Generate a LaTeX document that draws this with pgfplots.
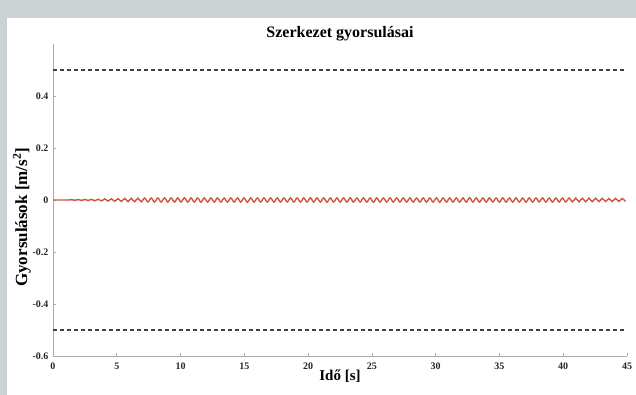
\documentclass[border=0pt]{standalone}
\usepackage{fontspec}
\setmainfont{Liberation Serif}
\usepackage{pgfplots}
\pgfplotsset{compat=1.18}
\definecolor{framegray}{RGB}{205,210,213}
\definecolor{axgray}{RGB}{178,168,168}
\definecolor{sig}{RGB}{205,85,60}
\begin{document}
\begin{tikzpicture}[x=1pt,y=1pt]
\fill[framegray] (0,0) rectangle (636,395);
\fill[white] (7,0) rectangle (636,377);
\path[use as bounding box] (0,0) rectangle (636,395);
\begin{axis}[
  at={(53pt,39pt)}, anchor=south west,
  scale only axis, width=574pt, height=312pt,
  xmin=0, xmax=45, ymin=-0.6, ymax=0.6,
  axis x line*=bottom, axis y line*=left,
  axis line style={axgray, line width=0.8pt, -},
  xtick={0,5,...,45},
  ytick={-0.6,-0.4,-0.2,0,0.2,0.4},
  tick align=inside, major tick length=3pt,
  tick style={axgray, line width=0.6pt},
  /pgf/number format/assume math mode=true,
  ticklabel style={font=\fontsize{10}{11}\selectfont\bfseries, text=black!85},
  yticklabel style={/pgf/number format/fixed, /pgf/number format/precision=1, xshift=-1pt},
  xticklabel style={anchor=base, yshift=-14pt},
  title={Szerkezet gyorsulásai},
  title style={font=\fontsize{16}{18}\selectfont\bfseries, at={(axis description cs:0.5,1)}, anchor=base, yshift=0pt},
  xlabel={Idő [s]},
  xlabel style={font=\fontsize{15}{17}\selectfont\bfseries, at={(axis description cs:0.5,0)}, anchor=base, yshift=-25pt},
  ylabel={Gyorsulások [m/s\textsuperscript{2}]},
  ylabel style={font=\fontsize{17}{19}\selectfont\bfseries, at={(axis description cs:0,0.445)}, anchor=center, yshift=31pt},
]
\addplot[black!75, line width=1.1pt, dash pattern=on 4pt off 3pt] coordinates {(0,0.5) (44.8,0.5)};
\addplot[black!75, line width=1.1pt, dash pattern=on 4pt off 3pt] coordinates {(0,-0.5) (44.8,-0.5)};
\addplot[sig, line width=1.4pt, smooth] coordinates {
(0,0) (1.20,0)
(1.46,0.001) (1.72,-0.001) (1.98,0.0015) (2.24,-0.0015) (2.50,0.002) (2.76,-0.002)
(3.02,0.0025) (3.28,-0.003) (3.54,0.003) (3.80,-0.0035) (4.06,0.004) (4.32,-0.004)
(4.58,0.0045) (4.84,-0.005) (5.10,0.005) (5.36,-0.0055) (5.62,0.006) (5.88,-0.006)
(6.14,0.0065) (6.40,-0.0065) (6.66,0.007) (6.92,-0.007) (7.18,0.0075) (7.44,-0.0075)
(7.70,0.0078) (7.96,-0.008)
(8.22,0.008) (8.48,-0.008) (8.74,0.008) (9.00,-0.008) (9.26,0.008) (9.52,-0.008)
(9.78,0.008) (10.04,-0.008) (10.30,0.0085) (10.56,-0.008) (10.82,0.008) (11.08,-0.008)
(11.34,0.008) (11.60,-0.0085) (11.86,0.008) (12.12,-0.008) (12.38,0.008) (12.64,-0.008)
(12.90,0.008) (13.16,-0.008) (13.42,0.0075) (13.68,-0.008) (13.94,0.008) (14.20,-0.008)
(14.46,0.008) (14.72,-0.008) (14.98,0.008) (15.24,-0.0085) (15.50,0.008) (15.76,-0.008)
(16.02,0.008) (16.28,-0.008) (16.54,0.0085) (16.80,-0.008) (17.06,0.008) (17.32,-0.008)
(17.58,0.008) (17.84,-0.008) (18.10,0.008) (18.36,-0.0075) (18.62,0.008) (18.88,-0.008)
(19.14,0.008) (19.40,-0.008) (19.66,0.008) (19.92,-0.008) (20.18,0.0085) (20.44,-0.008)
(20.70,0.008) (20.96,-0.008) (21.22,0.008) (21.48,-0.0085) (21.74,0.008) (22.00,-0.008)
(22.26,0.008) (22.52,-0.008) (22.78,0.008) (23.04,-0.008) (23.30,0.0085) (23.56,-0.008)
(23.82,0.008) (24.08,-0.008) (24.34,0.008) (24.60,-0.008) (24.86,0.008) (25.12,-0.0085)
(25.38,0.008) (25.64,-0.008) (25.90,0.008) (26.16,-0.008) (26.42,0.0085) (26.68,-0.008)
(26.94,0.008) (27.20,-0.008) (27.46,0.008) (27.72,-0.008) (27.98,0.008) (28.24,-0.008)
(28.50,0.0075) (28.76,-0.008) (29.02,0.008) (29.28,-0.008) (29.54,0.008) (29.80,-0.008)
(30.06,0.008) (30.32,-0.0085) (30.58,0.008) (30.84,-0.008) (31.10,0.008) (31.36,-0.008)
(31.62,0.008) (31.88,-0.008) (32.14,0.008) (32.40,-0.008) (32.66,0.0085) (32.92,-0.008)
(33.18,0.008) (33.44,-0.008) (33.70,0.008) (33.96,-0.008) (34.22,0.008) (34.48,-0.0075)
(34.74,0.008) (35.00,-0.008) (35.26,0.008) (35.52,-0.008) (35.78,0.008) (36.04,-0.008)
(36.30,0.008) (36.56,-0.008) (36.82,0.0075) (37.08,-0.008) (37.34,0.008) (37.60,-0.008)
(37.86,0.008) (38.12,-0.0075) (38.38,0.008) (38.64,-0.008) (38.90,0.0075) (39.16,-0.008)
(39.42,0.0075) (39.68,-0.0075) (39.94,0.0075) (40.20,-0.0075) (40.46,0.0075) (40.72,-0.007)
(40.98,0.007) (41.24,-0.007) (41.50,0.007) (41.76,-0.007) (42.02,0.007) (42.28,-0.0065)
(42.54,0.0065) (42.80,-0.0065) (43.06,0.0065) (43.32,-0.006) (43.58,0.006) (43.84,-0.006)
(44.10,0.006) (44.36,-0.0055) (44.62,0.0055) (44.88,-0.005)
};
\end{axis}
\end{tikzpicture}
\end{document}
